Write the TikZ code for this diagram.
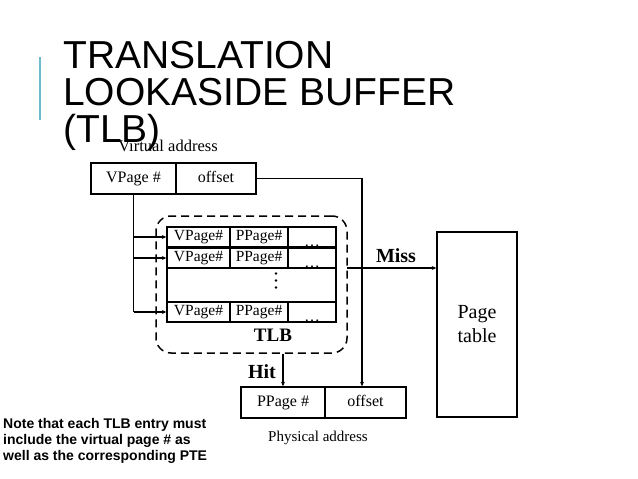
\documentclass[tikz,border=0pt]{standalone}
\usepackage{fontspec}
\setmainfont{Liberation Serif}
\newfontfamily\sansf{Liberation Sans}
\usetikzlibrary{arrows.meta,calc}
\definecolor{barblue}{RGB}{110,185,205}
\tikzset{
  cell/.style={draw,line width=1.5pt,inner sep=0pt,minimum height=31pt,text height=11pt,text depth=3.5pt,font=\fontsize{16}{18}\selectfont},
  tcell/.style={draw,line width=1.4pt,inner sep=0pt,minimum height=20pt,text height=10.5pt,text depth=3.5pt,font=\fontsize{15.5}{17}\selectfont},
  conn/.style={line width=1.3pt},
  arr/.style={conn,-{Stealth[length=4.5pt,width=4pt]}},
  lbl/.style={inner sep=0pt,font=\fontsize{20}{22}\selectfont\bfseries},
  titlef/.style={inner sep=0pt,anchor=base west,font=\sansf\fontsize{39}{42}\selectfont},
  notef/.style={inner sep=0pt,anchor=base west,font=\sansf\bfseries\fontsize{14}{16}\selectfont},
  ell/.style={inner sep=0pt,anchor=base,font=\fontsize{15.5}{17}\selectfont}
}
\begin{document}
\begin{tikzpicture}[x=1pt,y=-1pt]
\useasboundingbox (0,0) rectangle (638,479);
% title
\draw[barblue,line width=2pt] (40,57) -- (40,120);
\node[titlef] (t1) at (63,68) {TRANSLATION};
\node[titlef] (t2) at (63,105) {LOOKASIDE BUFFER};
\node[titlef] (t3) at (63,142) {(TLB)};
% virtual address
\node[inner sep=0pt,anchor=base,font=\fontsize{16.5}{18}\selectfont] (valbl) at (168,151) {Virtual address};
\node[cell,minimum width=85pt] (va1) at (133.5,178.5) {VPage \#};
\node[cell,minimum width=80pt] (va2) at (216,178.5) {offset};
% TLB table
\draw[line width=1.4pt] (167,227) rectangle (336,322);
\node[tcell,minimum width=63pt] (r1c1) at (198.5,237) {VPage\#};
\node[tcell,minimum width=58pt] (r1c2) at (259,237) {PPage\#};
\node[tcell,minimum width=48pt] (r1c3) at (312,237) {};
\node[tcell,minimum width=63pt] (r2c1) at (198.5,258) {VPage\#};
\node[tcell,minimum width=58pt] (r2c2) at (259,258) {PPage\#};
\node[tcell,minimum width=48pt] (r2c3) at (312,258) {};
\node[tcell,minimum width=63pt] (r3c1) at (198.5,312) {VPage\#};
\node[tcell,minimum width=58pt] (r3c2) at (259,312) {PPage\#};
\node[tcell,minimum width=48pt] (r3c3) at (312,312) {};
\node[ell] (d1) at (312,246.5) {…};
\node[ell] (d2) at (312,267.5) {…};
\node[ell] (d3) at (312,321.5) {…};
\fill (276,273.5) circle (1.3pt) (276,280.5) circle (1.3pt) (276,287.5) circle (1.3pt);
% dashed TLB box
\node[draw,dash pattern=on 8pt off 5pt,line width=1.5pt,rounded corners=15pt,minimum width=191pt,minimum height=137pt,inner sep=0pt] (tlbbox) at (251.5,284.5) {};
\node[lbl,font=\fontsize{19}{21}\selectfont\bfseries] (tlblbl) at (273,335) {TLB};
% page table
\node[draw,line width=1.5pt,minimum width=80pt,minimum height=185pt,inner sep=0pt,align=center,font=\fontsize{20}{24}\selectfont] (pt) at (477,324.5) {Page\\table};
% physical address
\node[cell,minimum width=84pt] (pa1) at (283,402.5) {PPage \#};
\node[cell,minimum width=81pt] (pa2) at (365.5,402.5) {offset};
\node[inner sep=0pt,font=\fontsize{15}{17}\selectfont] (palbl) at (318,438) {Physical address};
% connectors
\coordinate (b1) at (133.5,237);
\coordinate (b2) at (133.5,258);
\coordinate (b3) at (133.5,312);
\draw[conn] (va1.south) -- (b3);
\draw[arr] (b1) -- (r1c1.west);
\draw[arr] (b2) -- (r2c1.west);
\draw[arr] (b3) -- (r3c1.west);
\draw[arr] (va2.east) -| ([xshift=-3.5pt]pa2.north);
\coordinate (m) at (347,268);
\draw[arr] (m) -- (m -| pt.west);
\node[lbl] (miss) at (396,256) {Miss};
\draw[arr] (tlbbox.south -| pa1.north) -- (pa1.north);
\node[lbl] (hit) at (262,372) {Hit};
% note
\node[notef] (n1) at (3,428) {Note that each TLB entry must};
\node[notef] (n2) at (3,444) {include the virtual page \# as};
\node[notef] (n3) at (3,460) {well as the corresponding PTE};
\end{tikzpicture}
\end{document}
